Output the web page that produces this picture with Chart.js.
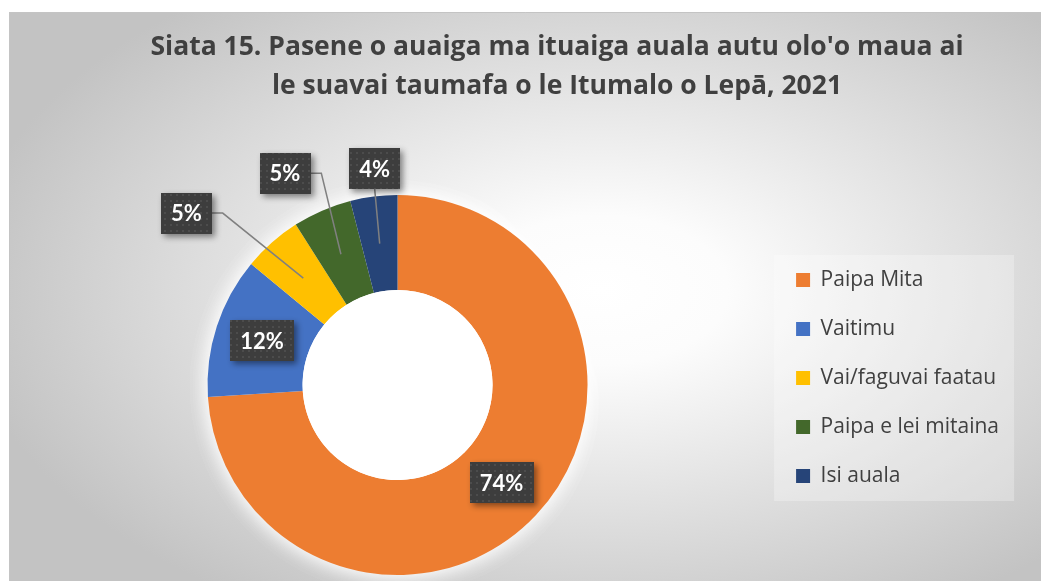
<!DOCTYPE html>
<html>
<head>
<meta charset="utf-8">
<script src="https://cdn.jsdelivr.net/npm/chart.js@4/dist/chart.umd.min.js"></script>
<style>
  html, body { margin: 0; padding: 0; background: #fff; }
  #wrap { width: 1041px; height: 581px; position: relative; }
</style>
</head>
<body>
<div id="wrap"><canvas id="chart1"></canvas></div>
<script>
// data
var titleLines = ["Siata 15. Pasene o auaiga ma ituaiga auala autu olo'o maua ai", "le suavai taumafa o le Itumalo o Lepā, 2021"];
var categories = ["Paipa Mita", "Vaitimu", "Vai/faguvai faatau", "Paipa e lei mitaina", "Isi auala"];
var percents = [74, 12, 5, 5, 4];
var sliceColors = ["#ED7D31", "#4472C4", "#FFC000", "#43682B", "#264478"];

// where the small slices put their callout (offset from the ring middle), null = inside
var calloutOffsets = [null, null, [-117, -65], [-56, -81], [-5, -75]];

var FONT = "'Open Sans', Lato, sans-serif";
var LABEL_FONT = "Lato, 'Open Sans', sans-serif";

function makeDots() {
    var c = document.createElement("canvas");
    c.width = 6; c.height = 6;
    var g = c.getContext("2d");
    g.fillStyle = "#3d3d3d";
    g.fillRect(0, 0, 6, 6);
    g.fillStyle = "#4c4c4c";
    g.fillRect(2, 2, 2, 2);
    return c;
}

var backgroundPlugin = {
    id: "bgPanel",
    afterLayout: function(chart) {
        // legend sits a bit higher than the donut middle
        if (chart.legend) {
            chart.legend.top -= 7;
            chart.legend.bottom -= 7;
        }
    },
    beforeDraw: function(chart) {
        var ctx = chart.ctx;
        ctx.save();
        ctx.fillStyle = "#ffffff";
        ctx.fillRect(0, 0, chart.width, chart.height);
        // gray frame with white glow in the middle
        ctx.beginPath();
        ctx.rect(9, 12, chart.width - 9, chart.height - 12);
        ctx.clip();
        ctx.translate(600, 290);
        ctx.scale(1, 0.58);
        var grd = ctx.createRadialGradient(0, 0, 0, 0, 0, 640);
        grd.addColorStop(0, "#ffffff");
        grd.addColorStop(0.2, "#fcfcfc");
        grd.addColorStop(1, "#c3c3c3");
        ctx.fillStyle = grd;
        ctx.fillRect(-700, -700, 1400, 1400);
        ctx.restore();

        ctx.save();
        ctx.strokeStyle = "#c4c4c4";
        ctx.lineWidth = 1;
        ctx.beginPath();
        ctx.moveTo(9.5, chart.height);
        ctx.lineTo(9.5, 12.5);
        ctx.lineTo(chart.width, 12.5);
        ctx.stroke();

        // title
        ctx.fillStyle = "#404040";
        ctx.font = "bold 26.5px " + FONT;
        ctx.textAlign = "center";
        ctx.textBaseline = "middle";
        ctx.fillText(titleLines[0], 557, 47);
        ctx.fillText(titleLines[1], 557, 86);

        // legend panel
        var hb = chart.legend && chart.legend.legendHitBoxes;
        if (hb && hb.length) {
            var first = hb[0], last = hb[hb.length - 1];
            var top = first.top + first.height / 2 - 25;
            var bottom = last.top + last.height / 2 + 25;
            ctx.fillStyle = "rgba(255,255,255,0.28)";
            ctx.fillRect(first.left - 22, top, 240, bottom - top);
        }
        ctx.restore();
    }
};

var calloutPlugin = {
    id: "callouts",
    beforeDatasetsDraw: function(chart) {
        // soft white glow under the ring
        var arc0 = chart.getDatasetMeta(0).data[0];
        var ctx = chart.ctx;
        ctx.save();
        ctx.shadowColor = "rgba(255,255,255,1)";
        ctx.shadowBlur = 22;
        ctx.fillStyle = "#ffffff";
        ctx.beginPath();
        ctx.arc(arc0.x, arc0.y, arc0.outerRadius - 2, 0, Math.PI * 2);
        ctx.fill();
        ctx.fill();
        ctx.restore();
    },
    afterDatasetsDraw: function(chart) {
        var ctx = chart.ctx;
        var meta = chart.getDatasetMeta(0);
        var arc0 = meta.data[0];
        ctx.save();
        // white hole
        ctx.fillStyle = "#ffffff";
        ctx.beginPath();
        ctx.arc(arc0.x, arc0.y, arc0.innerRadius, 0, Math.PI * 2);
        ctx.fill();

        var pattern = ctx.createPattern(makeDots(), "repeat");
        ctx.font = "bold 22px " + LABEL_FONT;
        ctx.textAlign = "center";
        ctx.textBaseline = "middle";

        meta.data.forEach(function(arc, i) {
            var p = arc.tooltipPosition();
            var label = percents[i] + "%";
            var w = ctx.measureText(label).width + 20;
            var h = 41;
            var cx = p.x, cy = p.y;
            var off = calloutOffsets[i];
            if (off) {
                cx = p.x + off[0];
                cy = p.y + off[1];
                ctx.strokeStyle = "#808080";
                ctx.lineWidth = 1.5;
                ctx.beginPath();
                ctx.moveTo(p.x, p.y);
                if (Math.abs(off[0]) < 20) {
                    ctx.lineTo(cx, cy + h / 2);
                } else {
                    ctx.lineTo(cx + w / 2 + 11, cy);
                    ctx.lineTo(cx + w / 2, cy);
                }
                ctx.stroke();
            }
            ctx.save();
            ctx.shadowColor = "rgba(0,0,0,0.45)";
            ctx.shadowBlur = 6;
            ctx.shadowOffsetX = 3;
            ctx.shadowOffsetY = 3;
            ctx.fillStyle = pattern;
            ctx.fillRect(Math.round(cx - w / 2), Math.round(cy - h / 2), Math.round(w), h);
            ctx.restore();
            ctx.fillStyle = "#ffffff";
            ctx.fillText(label, cx, cy + 1);
        });
        ctx.restore();
    }
};

var ctx = document.getElementById("chart1").getContext("2d");
var chart = new Chart(ctx, {
    type: "doughnut",
    data: {
        labels: categories,
        datasets: [{
            data: percents,
            backgroundColor: sliceColors,
            borderWidth: 0
        }]
    },
    options: {
        animation: false,
        responsive: true,
        maintainAspectRatio: false,
        cutout: "50%",
        layout: {
            padding: { top: 195, bottom: 6, left: 27, right: 32 }
        },
        plugins: {
            tooltip: { enabled: false },
            title: { display: false },
            legend: {
                display: true,
                position: "right",
                labels: {
                    boxWidth: 14,
                    boxHeight: 14,
                    padding: 28,
                    color: "#404040",
                    font: { family: FONT, size: 21 }
                }
            }
        }
    },
    plugins: [backgroundPlugin, calloutPlugin]
});
</script>
</body>
</html>
